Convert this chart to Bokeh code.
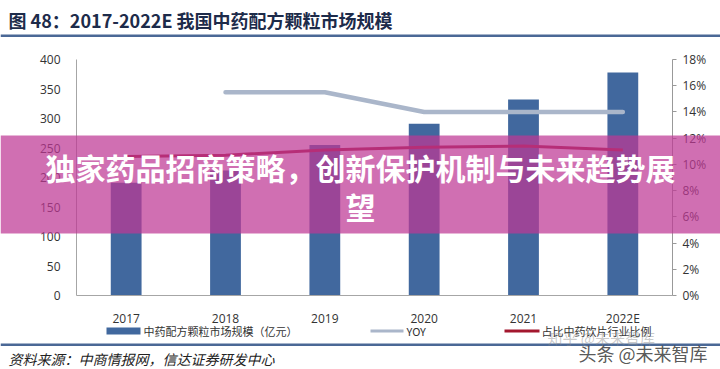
from bokeh.plotting import figure
from bokeh.models import (Range1d, LinearAxis, FixedTicker, PrintfTickFormatter,
                          Label, BoxAnnotation, ColumnDataSource)
from bokeh.embed import file_html
from bokeh.resources import INLINE

# ---- data ----
years = ["2017", "2018", "2019", "2020", "2021", "2022E"]
market = [191, 212, 255, 291, 332, 378]          # 中药配方颗粒市场规模（亿元）
yoy = [None, 15.5, 15.5, 14.0, 14.0, 14.0]        # YOY (%)
share = [10.6, 10.7, 11.1, 11.3, 11.4, 11.1]      # 占比中药饮片行业比例 (%)
left_ticks = [0, 50, 100, 150, 200, 250, 300, 350, 400]
right_ticks = [0, 2, 4, 6, 8, 10, 12, 14, 16, 18]

title_text = "图 48：2017-2022E 我国中药配方颗粒市场规模"
source_text = "资料来源：中商情报网，信达证券研发中心"
legend_labels = ["中药配方颗粒市场规模（亿元）", "YOY", "占比中药饮片行业比例"]
banner_lines = ["独家药品招商策略，创新保护机制与未来趋势展", "望"]

CJK = "Noto Sans CJK SC"
LAT = "Open Sans"

W, H = 720, 369
# plot area in page pixels
PL, PR, PT, PB = 76, 672, 59, 295
n = len(years)
ux = (PR - PL) / n                 # pixels per category
uy = (PB - PT) / 400.0             # pixels per unit (left)
up = (PB - PT) / 18.0              # pixels per percent (right)

x_range = Range1d(-PL / ux, (W - PL) / ux)
y_range = Range1d(-(H - PB) / uy, 400 + PT / uy)

p = figure(width=W, height=H, x_range=x_range, y_range=y_range,
           output_backend="svg", toolbar_location=None, x_axis_type=None, y_axis_type=None,
           min_border=0, min_border_left=0, min_border_right=0, min_border_top=0, min_border_bottom=0)
p.title.visible = False
p.outline_line_color = None
p.grid.visible = False
p.extra_y_ranges = {"pct": Range1d(-(H - PB) / up, 18 + PT / up)}

xpos = [i + 0.5 for i in range(n)]

# axes (fixed inside the frame so that overlays can span the whole page)
la = LinearAxis(fixed_location=0, bounds=(0, 400), ticker=FixedTicker(ticks=left_ticks))
la.major_tick_line_color = None
la.minor_tick_line_color = None
la.major_label_standoff = 10
la.axis_line_color = "#a6a6a6"
la.major_label_text_font = LAT
la.major_label_text_font_size = "12px"
la.major_label_text_color = "#333333"
p.add_layout(la, "left")

ba = LinearAxis(fixed_location=0, bounds=(0, n), ticker=FixedTicker(ticks=xpos),
                major_label_overrides={x: y for x, y in zip(xpos, years)})
ba.major_tick_line_color = None
ba.minor_tick_line_color = None
ba.axis_line_color = "#a6a6a6"
ba.major_label_standoff = 8
ba.major_label_text_font = LAT
ba.major_label_text_font_size = "12px"
ba.major_label_text_color = "#333333"
p.add_layout(ba, "below")

ra = LinearAxis(y_range_name="pct", fixed_location=n, bounds=(0, 18),
                ticker=FixedTicker(ticks=right_ticks),
                formatter=PrintfTickFormatter(format="%d%%"))
ra.axis_line_color = "#999999"
ra.major_tick_line_color = "#999999"
ra.major_tick_out = 4
ra.major_tick_in = 0
ra.minor_tick_line_color = None
ra.major_label_standoff = 6
ra.major_label_text_font = LAT
ra.major_label_text_font_size = "12px"
ra.major_label_text_color = "#333333"
p.add_layout(ra, "right")

# glyphs
src = ColumnDataSource(dict(x=xpos, market=market, share=share))
p.vbar(x="x", top="market", width=0.31, source=src, fill_color="#41689e", line_color=None)
p.line(x="x", y="share", source=src, y_range_name="pct", line_color="#a3172e", line_width=3)
yx = [x for x, v in zip(xpos, yoy) if v is not None]
yv = [v for v in yoy if v is not None]
p.line(x=yx, y=yv, y_range_name="pct", line_color="#aab6ca", line_width=4.5, line_cap="round")

# helpers: frame == whole page; screen units from bottom-left
def sx(X): return X
def sy(Y): return H - Y

def box(l, r, t, b, color, alpha=1.0, level="annotation"):
    p.add_layout(BoxAnnotation(left=sx(l), right=sx(r), top=sy(t), bottom=sy(b),
                               left_units="screen", right_units="screen",
                               top_units="screen", bottom_units="screen",
                               fill_color=color, fill_alpha=alpha, line_color=None, level=level))

def label(X, Y, text, size, color="#333333", font=CJK, style="normal", align="left",
          alpha=1.0, level="annotation"):
    p.add_layout(Label(x=sx(X), y=sy(Y), x_units="screen", y_units="screen", text=text,
                       text_font=font, text_font_size=size, text_font_style=style,
                       text_color=color, text_alpha=alpha, text_align=align,
                       text_baseline="middle", level=level))

# title and rules
label(8, 19, title_text, "18px", color="#1d2b4a", style="bold")
box(0, W, 34, 36.5, "#4a6896")
box(0, W, 343, 345.5, "#4a6896")

# legend
box(106, 140, 327, 334, "#41689e")
label(143, 330, legend_labels[0], "11px")
box(370, 403, 329, 332, "#aab6ca")
label(406, 330, legend_labels[1], "11px")
box(504, 539, 329, 332, "#a3172e")
label(541, 330, legend_labels[2], "11px")

# source
label(8, 358, source_text, "14px", color="#222222", style="italic")

# watermarks
label(547, 337, "知乎 @未来智库", "15px", color="#888888", alpha=0.45)
label(578, 352, "头条 @未来智库", "18px", color="#444444", alpha=0.9)

# banner overlay
box(0, W, 135, 233, "#be3794", alpha=0.72, level="overlay")
label(360, 166, banner_lines[0], "30px", color="#ffffff", style="bold", align="center", level="overlay")
label(360, 205, banner_lines[1], "30px", color="#ffffff", style="bold", align="center", level="overlay")

open("out.html", "w").write(file_html(p, INLINE))
